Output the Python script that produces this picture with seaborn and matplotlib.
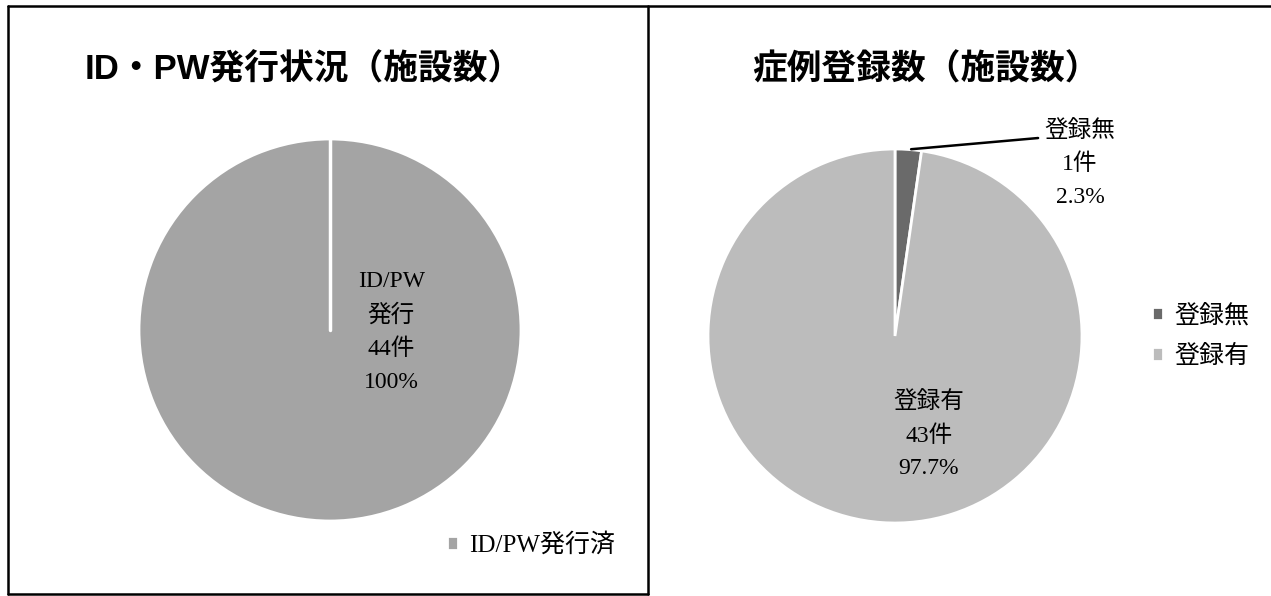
import matplotlib
matplotlib.use("Agg")
import numpy as np
import matplotlib.pyplot as plt
from matplotlib.lines import Line2D
import seaborn as sns

# data
id_labels = ["ID/PW発行済"]
id_counts = [44]
reg_labels = ["登録無", "登録有"]
reg_counts = [1, 43]

id_title = "ID・PW発行状況（施設数）"
reg_title = "症例登録数（施設数）"

sns.set_theme(style="white")
plt.rcParams["font.family"] = ["Liberation Serif", "Noto Sans CJK JP", "DejaVu Sans"]
plt.rcParams["text.color"] = "black"

W, H = 1271, 596
fig = plt.figure(figsize=(W / 100, H / 100), dpi=100)
fig.patch.set_facecolor("white")


def px_axes(cx, cy, r):
    # axes whose data range -1..1 covers a circle of radius r px at (cx, cy)
    ax = fig.add_axes([(cx - r) / W, 1 - (cy + r) / H, 2 * r / W, 2 * r / H])
    ax.set_aspect("equal")
    ax.axis("off")
    return ax


def fmt(name, n, total, pct_fmt="{:.1f}%"):
    return f"{name}\n{n}件\n" + pct_fmt.format(100 * n / total)


lab_kw = dict(ha="center", va="center", fontsize=17, linespacing=1.7, color="black")

# ---- left pie
ax1 = px_axes(330, 330, 191)
w1, _ = ax1.pie(id_counts, colors=sns.color_palette(["#a4a4a4"]), startangle=90,
                counterclock=False, wedgeprops=dict(edgecolor="white", linewidth=2))
ax1.set_xlim(-1, 1)
ax1.set_ylim(-1, 1)
# seam of the full circle wedge
th = np.deg2rad(w1[0].theta1)
ax1.plot([0, np.cos(th)], [0, np.sin(th)], color="white", lw=2.5)
ax1.text(0.32, -0.01, fmt("ID/PW\n発行", id_counts[0], sum(id_counts), "{:.0f}%"),
         **lab_kw)

# ---- right pie
ax2 = px_axes(895, 336, 187)
w2, _ = ax2.pie(reg_counts, colors=["#6a6a6a", "#bcbcbc"], startangle=90,
                counterclock=False, wedgeprops=dict(edgecolor="white", linewidth=2))
ax2.set_xlim(-1, 1)
ax2.set_ylim(-1, 1)
tot = sum(reg_counts)
ax2.text(0.18, -0.53, fmt(reg_labels[1], reg_counts[1], tot), **lab_kw)
mid = np.deg2rad((w2[0].theta1 + w2[0].theta2) / 2)
ax2.annotate("", xy=(np.cos(mid), np.sin(mid)), xytext=(0.78, 1.06),
             arrowprops=dict(arrowstyle="-", color="black", lw=1.8),
             annotation_clip=False)
ax2.text(0.99, 0.92, fmt(reg_labels[0], reg_counts[0], tot), clip_on=False, **lab_kw)

# ---- titles
title_font = ["Liberation Sans", "Noto Sans CJK JP", "DejaVu Sans"]
fig.text(85 / W, 1 - 80 / H, id_title, ha="left", va="baseline", fontsize=25,
         fontweight="bold", family=title_font, color="black")
fig.text(752 / W, 1 - 80 / H, reg_title, ha="left", va="baseline", fontsize=25,
         fontweight="bold", family=title_font, color="black")

# ---- legends
leg_kw = dict(loc="center left", frameon=False, fontsize=18, handlelength=0.45,
              handleheight=0.45, handletextpad=0.45, borderpad=0, borderaxespad=0,
              labelcolor="black")
fig.legend(w1, id_labels, bbox_to_anchor=(447 / W, 1 - 545 / H), **leg_kw)
fig.legend(w2, reg_labels, bbox_to_anchor=(1152 / W, 1 - 336 / H),
           labelspacing=0.7, **leg_kw)

# ---- box borders
for xs, ys in [([8, W], [6, 6]), ([8, 8], [6, 594]), ([8, 648], [594, 594]),
               ([648, 648], [6, 594])]:
    fig.add_artist(Line2D([x / W for x in xs], [1 - y / H for y in ys],
                          transform=fig.transFigure, color="black", lw=1.8))

fig.savefig("out.png", dpi=100)
